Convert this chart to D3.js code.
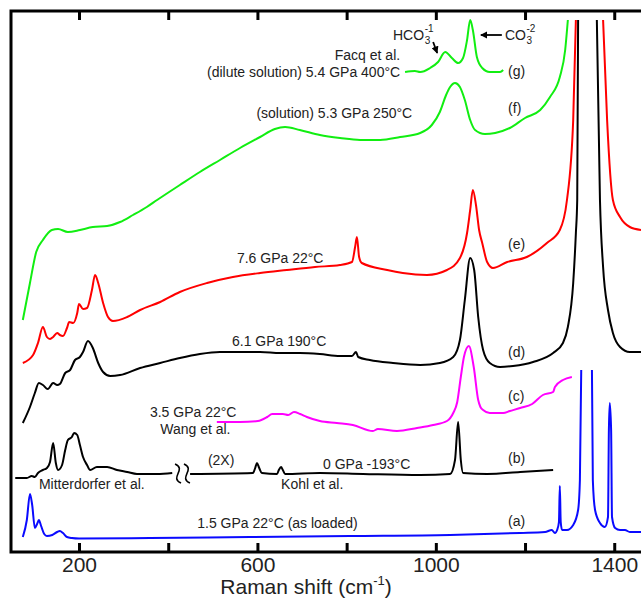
<!DOCTYPE html>
<html><head><meta charset="utf-8">
<script src="https://cdn.jsdelivr.net/npm/d3@7"></script>
<style>
body{margin:0;background:#fff}
svg{display:block}
text{font-family:"Liberation Sans",Arial,Helvetica,sans-serif;fill:#222}
</style>
</head><body>
<svg id="chart" width="641" height="601"></svg>
<script>
// ---------- data (Raman shift in cm-1, intensity in arbitrary offset units) ----------
const xTicks = [200, 400, 600, 800, 1000, 1200, 1400];
const xTickLabels = [200, 600, 1000, 1400];
const xTitle = "Raman shift (cm";

// (a) 1.5 GPa 22°C (as loaded) - blue
const aShift = [74,83,90,95,101,106,110,115,122,128,140,151,157,164,173,184,200,359,583,807,1032,1189,1245,1260,1267,1272,1276,1278,1280,1283,1294,1308,1319,1323,1326,null,1350,1352,1357,1368,1379,1386,1388,1390,1393,1395,1402,1413,1424,1435,1460];
const aInt   = [15,32,58,47,24,28,32,26,18,16,17,20,21,19,15,14,13.5,14,15,16,17,19,20,22,19,22,30,66,30,22,22,27,42,72,182,null,182,72,42,29,25,35,122,149,122,35,24,22,22,20,20];

// (b) Mitterdorfer / Kohl 0 GPa -193°C - black (two pieces, broken axis)
const b1Shift = [57,83,94,101,108,119,128,135,142,148,153,162,169,175,184,189,196,202,209,218,225,240,263,285,308,330,352,375,409];
const b1Int   = [74,74,76,75,79,82,84,90,109,89,82,87,102,112,115,119,117,107,95,87,82,85,85,82,80,78,78,78,79];
const b2Shift = [449,590,595,599,604,610,644,648,653,657,662,740,837,965,1032,1043,1050,1056,1061,1115,1189,1263];
const b2Int   = [78,79,84,89,84,79,78,82,85,82,78,79,78,77,78,92,130,92,79,78,80,82];

// (c) Wang et al. 3.5 GPa 22°C - magenta
const cShift = [509,561,601,622,633,657,669,682,696,711,740,778,814,859,870,913,958,994,1025,1039,1048,1056,1063,1074,1085,1095,1100,1106,1121,1151,1166,1189,1216,1240,1263,1267,1285,1305];
const cInt   = [130,130,131,135,138,138,137,140,138,135,131,129,127,121,123,121,124,127,131,139,150,175,195,206,185,152,145,142,139,139,141,144,148,157,160,165,172,175];

// (d) 6.1 GPa 190°C - black
const dShift = [74,90,101,110,119,130,142,151,157,169,180,191,202,209,220,231,243,254,270,292,337,382,426,471,516,561,606,651,695,740,785,812,821,826,852,904,965,1009,1039,1054,1065,1077,1086,1095,1106,1121,1144,1173,1218,1263,1285,1296,1308,1314,1317,1319,null,1361,1368,1375,1386,1397,1413,1435,1460];
const dInt   = [129,145,159,169,167,163,169,167,168,179,182,192,195,200,211,204,189,180,176,177,184,189,194,198,200,200,200,199,199,198,196,196,200,195,192,189,187,189,195,212,252,294,282,235,202,189,185,186,190,199,209,225,269,319,352,532,null,532,352,285,242,219,205,200,200];

// (e) 7.6 GPa 22°C - red
const eShift = [74,97,108,119,128,135,142,151,157,164,173,178,187,196,200,209,218,229,236,243,254,265,276,308,337,382,426,487,545,606,666,729,785,812,819,823,828,834,891,926,980,1025,1054,1070,1077,1083,1090,1097,1104,1115,1128,1160,1204,1249,1278,1294,1308,1314,null,1375,1384,1397,1413,1435,1460];
const eInt   = [189,197,209,225,215,213,215,219,217,216,224,230,229,239,248,243,244,262,277,269,249,235,231,235,242,250,260,269,275,279,282,285,287,290,305,315,295,289,282,279,277,282,294,319,342,362,347,322,309,290,284,290,295,309,322,352,432,532,null,532,432,352,335,325,322];

// (f) solution 5.3 GPa 250°C - green
const fShift = [74,90,104,119,139,153,175,202,231,263,292,321,352,375,426,471,516,561,606,639,662,695,740,785,830,875,920,965,991,1009,1023,1032,1043,1054,1065,1077,1088,1110,1133,1166,1200,1234,1256,1278,1290,1296];
const fInt   = [232,269,300,312,322,323,320,322,325,326,330,337,345,352,367,380,392,404,415,423,425,422,417,414,412,412,415,419,427,440,457,465,469,465,452,432,422,418,419,424,434,442,455,475,502,532];

// (g) Facq et al. dilute solution 5.4 GPa 400°C - green
const gShift = [931,953,965,987,1005,1021,1036,1050,1061,1070,1077,1083,1092,1104,1121,1144,1151];
const gInt   = [480,481,480,484,490,500,494,489,494,512,532,522,495,484,480,480,482];

const curveLetters = ["(a)","(b)","(c)","(d)","(e)","(f)","(g)"];
const letterInts   = [26, 89, 151, 195, 303, 439, 476];

// ---------- layout ----------
const W = 641, H = 601;
const svg = d3.select("#chart");
const x = d3.scaleLinear().domain([47.5, 1460]).range([11, 641]);
const y = d3.scaleLinear().domain([0, 541]).range([552, 11]);

function pts(s, v){ return s.map((d,i)=>({s:d, v:v[i]})); }
const line = d3.line()
  .defined(d => d.s !== null && d.v !== null)
  .x(d => x(d.s)).y(d => y(d.v))
  .curve(d3.curveMonotoneX);

const series = [
  {s:aShift,  v:aInt,  c:"#0a0aff"},
  {s:b1Shift, v:b1Int, c:"#000"},
  {s:b2Shift, v:b2Int, c:"#000"},
  {s:cShift,  v:cInt,  c:"#ff00ff"},
  {s:dShift,  v:dInt,  c:"#000"},
  {s:eShift,  v:eInt,  c:"#ff0000"},
  {s:fShift,  v:fInt,  c:"#11ee11"},
  {s:gShift,  v:gInt,  c:"#11ee11"}
];

const g = svg.append("g");
series.forEach(se => {
  g.append("path").datum(pts(se.s, se.v))
    .attr("d", line).attr("fill","none")
    .attr("stroke", se.c).attr("stroke-width", 2)
    .attr("stroke-linejoin","round");
});

// break marks on curve (b)
[422, 442].forEach(s => {
  const cx = x(s), y0 = y(88), y1 = y(69);
  g.append("path")
    .attr("d", `M${cx-3},${y0} C${cx+9},${y0+5} ${cx-9},${y1-5} ${cx+3},${y1}`)
    .attr("fill","none").attr("stroke","#000").attr("stroke-width",1.6);
});

// ---------- axes ----------
const axB = d3.axisBottom(x).tickValues(xTicks).tickSize(-9).tickPadding(6)
  .tickFormat(d => xTickLabels.includes(d) ? d : "");
const gB = svg.append("g").attr("transform", `translate(0,${y(0)})`).call(axB);
gB.select(".domain").remove();
gB.selectAll(".tick line").attr("stroke","#000").attr("stroke-width",3);
gB.selectAll(".tick text").attr("font-size",21).attr("fill","#333")
  .attr("font-family","Liberation Sans, Arial, sans-serif").attr("dy","0.65em");

const axT = d3.axisTop(x).tickValues(xTicks).tickSize(-9).tickFormat("");
const gT = svg.append("g").attr("transform", `translate(0,${y(541)})`).call(axT);
gT.select(".domain").remove();
gT.selectAll(".tick line").attr("stroke","#000").attr("stroke-width",3);

// frame
svg.append("path")
  .attr("d", `M${W},${y(541)} H${x(47.5)} V${y(0)} H${W}`)
  .attr("fill","none").attr("stroke","#000").attr("stroke-width",3);

// axis title
const t = svg.append("text").attr("x", 306).attr("y", 594)
  .attr("text-anchor","middle").attr("font-size",21).attr("fill","#333");
t.append("tspan").text(xTitle);
t.append("tspan").attr("font-size",13).attr("dy",-9).text("-1");
t.append("tspan").attr("dy",9).text(")");

// ---------- annotations ----------
const ann = svg.append("g").attr("font-size",14);
function label(txt, s, v, anchor){
  ann.append("text").attr("x", x(s)).attr("y", y(v))
    .attr("text-anchor", anchor || "start").text(txt);
}
curveLetters.forEach((l,i) => label(l, 1162, letterInts[i]));
label("1.5 GPa 22°C (as loaded)", 465, 24);
label("Mitterdorfer et al.", 110, 63);
label("Kohl et al.", 653, 63);
label("0 GPa  -193°C", 747, 83);
label("(2X)", 489, 87);
label("3.5 GPa 22°C", 359, 135);
label("Wang et al.", 382, 118);
label("6.1 GPa 190°C", 543, 206);
label("7.6 GPa 22°C", 554, 289);
label("(solution) 5.3 GPa 250°C", 947, 434, "end");
label("Facq et al.", 920, 492, "end");
label("(dilute solution) 5.4 GPa 400°C", 920, 475, "end");

function chem(base, sub, sup, s, v){
  const tx = ann.append("text").attr("x", x(s)).attr("y", y(v));
  tx.append("tspan").text(base);
  const bb = tx.node().getComputedTextLength();
  ann.append("text").attr("x", x(s)+bb+0.5).attr("y", y(v)+4).attr("font-size",10).text(sub);
  ann.append("text").attr("x", x(s)+bb+0.5).attr("y", y(v)-8).attr("font-size",10).text(sup);
}
chem("HCO", "3", "-1", 904, 512);
chem("CO", "3", "-2", 1155, 512);

// arrows
const defs = svg.append("defs");
defs.append("marker").attr("id","ah").attr("viewBox","0 0 10 10")
  .attr("refX",9).attr("refY",5).attr("markerWidth",4).attr("markerHeight",4)
  .attr("orient","auto-start-reverse")
  .append("path").attr("d","M0,0 L10,5 L0,10 z").attr("fill","#000");
svg.append("line").attr("x1", x(1148)).attr("y1", y(517)).attr("x2", x(1101)).attr("y2", y(517))
  .attr("stroke","#000").attr("stroke-width",1.8).attr("marker-end","url(#ah)");
svg.append("line").attr("x1", x(994)).attr("y1", y(510)).attr("x2", x(1003)).attr("y2", y(499))
  .attr("stroke","#000").attr("stroke-width",1.8).attr("marker-end","url(#ah)");
</script>
</body></html>
